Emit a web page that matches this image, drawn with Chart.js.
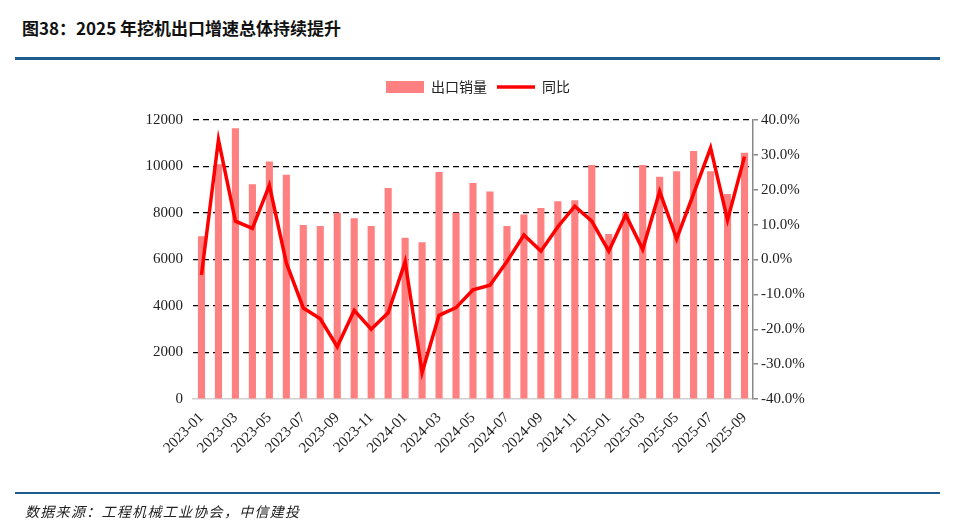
<!DOCTYPE html>
<html>
<head>
<meta charset="utf-8">
<script src="https://cdn.jsdelivr.net/npm/chart.js@4.4.1/dist/chart.umd.min.js"></script>
<style>
  html, body { margin: 0; padding: 0; background: #fff; }
  body { width: 960px; height: 530px; position: relative; overflow: hidden; font-family: "Noto Sans CJK SC", sans-serif; }
  #title { position: absolute; left: 22px; top: 15px; font-size: 17px; font-weight: bold; color: #111; }
  .rule { position: absolute; left: 15px; width: 925px; background: #1f5c8b; }
  #rule1 { top: 57px; height: 3px; }
  #rule2 { top: 492px; height: 2px; }
  #source { position: absolute; left: 25px; top: 501px; font-size: 14px; font-style: italic; color: #222; letter-spacing: 1.3px; }
  #chart { position: absolute; left: 0; top: 0; }
</style>
</head>
<body>
<div id="title">图38：2025 年挖机出口增速总体持续提升</div>
<div class="rule" id="rule1"></div>
<canvas id="chart" width="960" height="530"></canvas>
<div class="rule" id="rule2"></div>
<div id="source">数据来源：工程机械工业协会，中信建投</div>
<script>
// Months 2023-01 .. 2025-09
const months = [
  '2023-01', '2023-02', '2023-03', '2023-04', '2023-05', '2023-06', '2023-07', '2023-08', '2023-09', '2023-10', '2023-11', '2023-12',
  '2024-01', '2024-02', '2024-03', '2024-04', '2024-05', '2024-06', '2024-07', '2024-08', '2024-09', '2024-10', '2024-11', '2024-12',
  '2025-01', '2025-02', '2025-03', '2025-04', '2025-05', '2025-06', '2025-07', '2025-08', '2025-09'
];

// 出口销量 (units)
const exportUnits = [
  7000, 10100, 11650, 9240, 10220, 9650, 7480, 7440, 8010, 7770, 7440, 9080,
  6940, 6740, 9760, 8010, 9290, 8920, 7440, 7940, 8210, 8510, 8550, 10060,
  7100, 8000, 10060, 9560, 9800, 10670, 9800, 8820, 10590
];

// 同比 (%)
const yoy = [
  -4.4, 34.3, 11.0, 8.9, 21.3, -1.0, -13.9, -17.0, -25.0, -14.6, -20.0, -15.3,
  -0.6, -32.4, -16.0, -13.8, -8.7, -7.4, -0.6, 7.0, 2.4, 9.4, 15.3, 11.0,
  2.4, 12.8, 2.9, 19.5, 5.9, 18.9, 32.0, 11.3, 29.5
];

const serif = 'Liberation Serif';

// push the plot down a bit below the legend
const legendGap = {
    id: 'legendGap',
    afterInit(chart) {
        const legend = chart.legend;
        const fit = legend.fit;
        legend.fit = function () {
            fit.call(this);
            this.height += 16;
        };
    }
};

const ctx = document.getElementById('chart').getContext('2d');
const chart = new Chart(ctx, {
    type: 'bar',
    data: {
        labels: months,
        datasets: [{
            type: 'line',
            label: '同比',
            data: yoy,
            yAxisID: 'y1',
            borderColor: '#ff0000',
            backgroundColor: '#ff0000',
            borderWidth: 3.5,
            pointRadius: 0,
            pointStyle: 'line',
            tension: 0,
            order: 0
        }, {
            label: '出口销量',
            data: exportUnits,
            yAxisID: 'y',
            backgroundColor: '#ff8080',
            borderWidth: 0,
            pointStyle: 'rect',
            categoryPercentage: 1,
            barPercentage: 0.42,
            order: 1
        }]
    },
    plugins: [legendGap],
    options: {
        responsive: false,
        animation: false,
        devicePixelRatio: 1,
        layout: { padding: { left: 133, right: 137, top: 70, bottom: 61 } },
        plugins: {
            legend: {
                reverse: true,
                labels: {
                    usePointStyle: true,
                    pointStyleWidth: 38,
                    boxHeight: 12,
                    color: '#222',
                    padding: 10,
                    font: { family: 'Noto Sans CJK SC', size: 14 }
                }
            },
            tooltip: { enabled: false }
        },
        scales: {
            x: {
                grid: { display: false },
                border: { display: true, color: '#d0d0d0', width: 1.5 },
                ticks: {
                    autoSkip: false,
                    maxRotation: 45,
                    minRotation: 45,
                    padding: 2,
                    color: '#222',
                    font: { family: serif, size: 15 },
                    callback: function (v, i) { return i % 2 === 0 ? months[i] : ''; }
                },
                afterFit: function (s) { s.height = 70; }
            },
            y: {
                position: 'left',
                min: 0,
                max: 12000,
                ticks: {
                    stepSize: 2000,
                    padding: 10,
                    color: '#222',
                    font: { family: serif, size: 15 },
                    callback: v => String(v)
                },
                grid: {
                    color: c => c.tick.value === 0 ? 'rgba(0,0,0,0)' : '#000',
                    lineWidth: 1.2,
                    drawTicks: false
                },
                border: { display: false, dash: [6, 4] },
                afterFit: function (s) { s.width = 60; }
            },
            y1: {
                position: 'right',
                min: -40,
                max: 40,
                ticks: {
                    stepSize: 10,
                    padding: 3,
                    color: '#222',
                    font: { family: serif, size: 15 },
                    callback: v => v.toFixed(1) + '%'
                },
                grid: { drawOnChartArea: false, drawTicks: true, tickLength: 5, color: '#888', lineWidth: 1.5 },
                border: { display: true, color: '#888', width: 1.5 },
                afterFit: function (s) { s.width = 70; }
            }
        }
    }
});
</script>
</body>
</html>
